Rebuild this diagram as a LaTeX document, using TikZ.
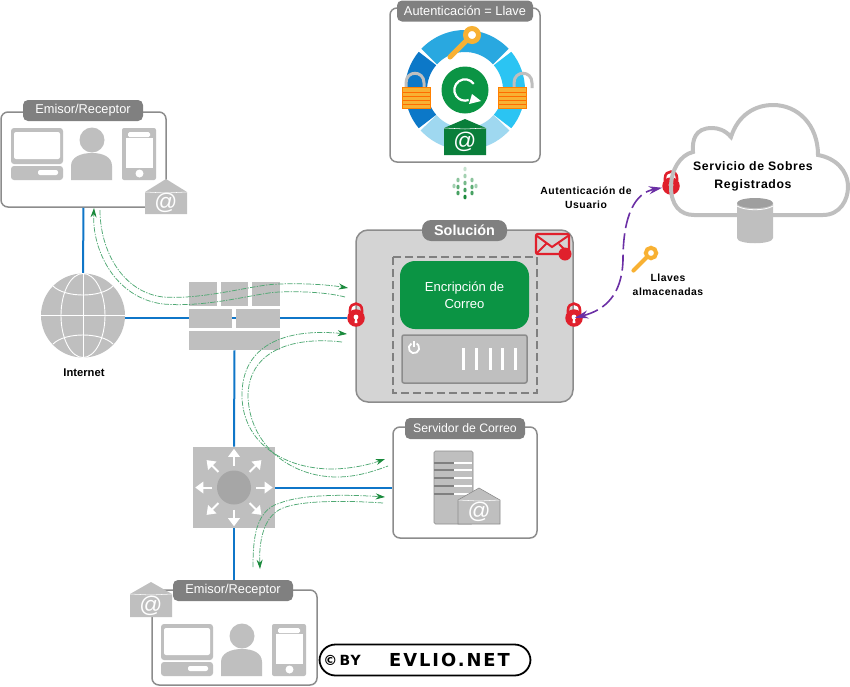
\documentclass[tikz,border=0pt]{standalone}
\usepackage{fontspec}
\setmainfont{Liberation Sans}
\newfontfamily\widefont[LetterSpace=5]{Liberation Sans}
\newfontfamily\markfont[LetterSpace=7]{DejaVu Sans}
\newfontfamily\namefont[LetterSpace=11]{DejaVu Sans}
\usepackage{tikz}
\usetikzlibrary{arrows,arrows.meta,calc,positioning}
\definecolor{boxline}{HTML}{8C8C8C}
\definecolor{titlegray}{HTML}{808080}
\definecolor{icongray}{HTML}{BFBFBF}
\definecolor{panelgray}{HTML}{D4D4D4}
\definecolor{netblue}{HTML}{0F76C8}
\definecolor{flowgreen}{HTML}{4FA873}
\definecolor{tipgreen}{HTML}{1A8A3C}
\definecolor{darkgreen}{HTML}{0B9444}
\definecolor{lockred}{HTML}{E0202C}
\definecolor{keyorange}{HTML}{F8B133}
\definecolor{flowpurple}{HTML}{6B2FA5}
\def\px{0.75pt}
\tikzset{%
groupbox/.style={draw=boxline,line width=1.5*\px,rounded corners=7*\px,fill=white,inner sep=0pt},
titlebar/.style={fill=titlegray,rounded corners=5*\px,text=white,inner sep=0pt,minimum height=21*\px,font=\fontsize{9.6}{11}\selectfont},
netlink/.style={draw=netblue,line width=2*\px},
flowplain/.style={draw=flowgreen,line width=0.75*\px,dash pattern=on 4pt off 1pt on 1pt off 1pt},
flowline/.style={flowplain,-{Stealth[length=7pt,width=4.5pt,color=tipgreen]}},
flowboth/.style={flowplain,{Stealth[length=7pt,width=4.5pt,color=tipgreen]}-{Stealth[length=7pt,width=4.5pt,color=tipgreen]}},
authlink/.style={draw=flowpurple,line width=1.6*\px,dash pattern=on 12pt off 4pt,{Stealth[length=10pt,width=6pt]}-{Stealth[length=10pt,width=6pt]}},
boldlabel/.style={font=\fontsize{7.8}{10.8}\selectfont\widefont\bfseries,align=center,inner sep=0pt},
atmark/.style={text=white,inner sep=0pt,font=\fontsize{17}{17}\selectfont},
lockbody/.style={circle,fill=lockred,minimum size=17.5*\px,inner sep=0pt},
brick/.style={fill=icongray}
}
% envelope: name, centre x, apex y, top of body, bottom, colour
\newcommand{\mailicon}[6]{%
  \fill[#6] (#2-21,#4) -- (#2,#3) -- (#2+21,#4) -- (#2+21,#5) -- (#2-21,#5) -- cycle;
  \draw[white,line width=0.4pt] (#2-21,#4) -- (#2,#4+1) -- (#2+21,#4);
  \node[atmark] (#1) at (#2,{(#4+#5)/2}) {@};
}
% red padlock: name, centre x, centre y
\newcommand{\redlock}[3]{%
  \draw[lockred,line width=2.6*\px] (#2-6,#3-5) -- (#2-6,#3-8) .. controls (#2-6,#3-16.5) and (#2+6,#3-16.5) .. (#2+6,#3-8) -- (#2+6,#3-5);
  \node[lockbody] (#1) at (#2,#3) {};
  \fill[white] (#2,#3-1) circle (2.4);
  \fill[white] (#2-1,#3) -- (#2+1,#3) -- (#2+1.4,#3+5) -- (#2-1.4,#3+5) -- cycle;
}
% orange padlock: body left x, shackle centre x
\newcommand{\keylock}[2]{%
  \draw[icongray,line width=3*\px] (#2-9,88) -- (#2-9,83) .. controls (#2-9,70) and (#2+9,70) .. (#2+9,83) -- (#2+9,88);
  \fill[keyorange] (#1,87) rectangle (#1+28,108);
  \foreach \ya in {92,96,100,104}{\draw[orange!85!red,line width=0.4pt] (#1,\ya) -- (#1+28,\ya);}
  \draw[orange,line width=0.7pt] (#1,87) rectangle (#1+28,108);
}
% key: bow x, bow y, scale
\newcommand{\goldkey}[3]{%
  \draw[keyorange,line width=5*#3*\px,line cap=round] (#1,#2) -- (#1-22*#3,#2+22*#3);
  \draw[keyorange,line width=5*#3*\px,fill=white] (#1,#2) circle ({6.5*#3});
}
% computer, person, phone
\newcommand{\deviceset}[2]{%
  \begin{scope}[shift={(#1,#2)}]
    \fill[icongray,rounded corners=3*\px] (0,0) rectangle (52,36);
    \fill[white,rounded corners=2*\px] (3,4) rectangle (49,31);
    \fill[icongray,rounded corners=3*\px] (0,38) rectangle (52,52);
    \fill[white,rounded corners=2*\px] (27,42) rectangle (47,47);
    \fill[icongray] (81,12) circle (12.5);
    \fill[icongray] (60,52) -- (60,38) .. controls (60,29) and (70,25) .. (81,25) .. controls (92,25) and (101,29) .. (101,38) -- (101,52) -- cycle;
    \fill[icongray,rounded corners=2*\px] (111,0) rectangle (145,52);
    \fill[white,rounded corners=1.5*\px] (117,4) rectangle (139,9);
    \fill[white] (114.5,10) rectangle (142,40);
    \fill[white] (128.5,45.5) circle (4);
  \end{scope}
}

\begin{document}
\begin{tikzpicture}[x=0.75pt,y=-0.75pt]
\useasboundingbox (0,0) rectangle (850,686);

% places
\coordinate (arrowsender) at (94,208);
\coordinate (flowsender) at (100,210);
\coordinate (solupper) at (348,288);
\coordinate (solupperb) at (345,297);
\coordinate (sollower) at (347,334);
\coordinate (sollowerb) at (342,342);
\coordinate (srvtop) at (385,459);
\coordinate (srvtopb) at (388,466);
\coordinate (srvlow) at (385,497);
\coordinate (srvlowb) at (383,503);
\coordinate (userlow) at (260,569);
\coordinate (userlowb) at (253,567);
\coordinate (ring) at (465,90);

% group boxes
\node[groupbox,minimum width=165*\px,minimum height=95*\px] (senderbox) at (83.5,159.5) {};
\node[groupbox,minimum width=150*\px,minimum height=154*\px] (authbox) at (465,85) {};
\node[groupbox,minimum width=144*\px,minimum height=111*\px] (mailbox) at (465,482.5) {};
\node[groupbox,minimum width=165*\px,minimum height=95*\px] (userbox) at (234.5,637.5) {};
\node[groupbox,fill=panelgray,rounded corners=12*\px,minimum width=217*\px,minimum height=172*\px] (solution) at (464.5,316) {};

% network
\node[circle,fill=icongray,minimum size=84*\px,inner sep=0pt] (globe) at (83,315.5) {};
\node[minimum width=91*\px,minimum height=68*\px,inner sep=0pt] (firewall) at (234.5,316) {};
\node[fill=icongray,minimum width=82*\px,minimum height=81*\px,inner sep=0pt] (switch) at (234,487.5) {};
\node[titlebar,minimum width=120*\px] (usertitle) at (233,590.5) {Emisor/Receptor};
\redlock{lockleft}{356}{318}
\redlock{lockright}{574}{318}
\redlock{lockcloud}{671}{186}

\draw[netlink] (senderbox.south) -- (globe.north);
\draw[netlink] (lockleft.west) -- (lockleft.west -| globe.east);
\draw[netlink] (firewall.south) -- (switch.north);
\draw[netlink] (switch.south) -- (usertitle.north -| switch.south);
\draw[netlink] (switch.east) -- (switch.east -| mailbox.west);

% globe
\begin{scope}[white,line width=0.9*\px]
\draw (globe.center) ellipse (22 and 42);
\draw (globe.north) -- (globe.south);
\draw (globe.west) -- (globe.east);
\draw (53,286) .. controls (65,298) and (101,298) .. (113,286);
\draw (53,344) .. controls (65,332) and (101,332) .. (113,344);
\end{scope}
\node[font=\fontsize{8.4}{10}\selectfont\bfseries,inner sep=0pt] (internet) at (84,373) {Internet};

% firewall
\fill[brick] (189,282) rectangle (217,306);
\fill[brick] (221,282) rectangle (248,306);
\fill[brick] (252,282) rectangle (280,306);
\fill[brick] (189,309) rectangle (232,328);
\fill[brick] (236,309) rectangle (280,328);
\fill[brick] (189,331) rectangle (280,350);

% switch
\fill[gray!70] (switch.center) circle (17);
\foreach \a in {0,45,...,315}{
  \draw[white,line width=2*\px] ($(switch.center)+(\a:16.5pt)$) -- ($(switch.center)+(\a:24pt)$);
  \fill[white,rotate around={\a:(switch.center)}] ($(switch.center)+(23pt,-4.5pt)$) -- ($(switch.center)+(29pt,0pt)$) -- ($(switch.center)+(23pt,4.5pt)$) -- cycle;
}

% senders
\node[titlebar,minimum width=120*\px] (sendertitle) at (83,110.5) {Emisor/Receptor};
\deviceset{11}{128}
\mailicon{sendermail}{166}{179}{192}{214}{icongray}
\deviceset{161}{624}
\mailicon{usermail}{151}{582}{594}{617}{icongray}

% authentication ring
\node[titlebar,minimum width=136*\px] (authtitle) at (465,11) {Autenticación = Llave};
\definecolor{ringa}{HTML}{29A8E0}
\definecolor{ringb}{HTML}{2BC4F3}
\definecolor{ringc}{HTML}{9FD8F0}
\definecolor{ringd}{HTML}{0C78C8}
\foreach \a/\b/\c in {43/137/ringa,-40/40/ringb,222/318/ringc,140/220/ringd}{
  \draw[\c,line width=16.5pt] (ring) ++(\a:36.75pt) arc (\a:\b:36.75pt);
}
\node[circle,fill=darkgreen,minimum size=47*\px,inner sep=0pt] (sync) at (ring) {};
\draw[white,line width=2.2*\px] (sync) ++(35:8pt) arc (35:290:8pt);
\fill[white] (472,94) -- (481,101) -- (469,104) -- cycle;
\goldkey{472}{35}{1}
\keylock{402}{415}
\keylock{498}{523}
\mailicon{ringmail}{465}{119}{128}{155}{darkgreen!85!black}

% up arrow of dots
\foreach \xa/\ya/\op in {465/169/0.25,465/176/0.4,465/183/0.6,465/190/0.8,465/197/1,458/180/0.5,472/180/0.5,458/187/0.7,472/187/0.7,458/193/0.8,472/193/0.8,454/186/0.4,476/186/0.4}{
  \fill[tipgreen,opacity=\op] (\xa,\ya) ellipse (1.6 and 2.4);
}

% solution
\node[titlebar,rounded corners=9*\px,minimum width=85*\px,font=\fontsize{10.8}{13}\selectfont\bfseries] (solutiontitle) at (464.5,230.5) {Solución};
\draw[gray,line width=1.1*\px,dash pattern=on 6pt off 3pt] (393,257) rectangle (537,393);
\node[fill=darkgreen,rounded corners=15*\px,minimum width=129*\px,minimum height=68*\px,align=center,text=white,inner sep=0pt,font=\fontsize{9.8}{12.5}\selectfont] (encrypt) at (464.5,295) {Encripción de\\Correo};
\node[fill=icongray,draw=boxline,line width=1.5*\px,rounded corners=2*\px,minimum width=125*\px,minimum height=48*\px,inner sep=0pt] (appliance) at (464.5,359) {};
\draw[white,line width=1.8*\px] (414,348) ++(120:3.9pt) arc (120:420:3.9pt);
\draw[white,line width=1.8*\px] (414,341) -- (414,347);
\foreach \xa in {463,476,490,502,515}{\draw[white,line width=3*\px] (\xa,348) -- (\xa,370);}

% sealed mail
\draw[lockred,line width=2.4*\px,rounded corners=2*\px] (536,234) rectangle (569,254);
\draw[lockred,line width=2*\px] (537,236) -- (552,247) -- (568,236) (537,253) -- (546,244) (568,253) -- (559,244);
\node[circle,fill=lockred,minimum size=13*\px,inner sep=0pt] (maildot) at (565,254) {};

% mail server
\node[titlebar,minimum width=120*\px,font=\fontsize{9.2}{11}\selectfont] (mailtitle) at (465,428.5) {Servidor de Correo};
\fill[icongray,draw=boxline,line width=0.6*\px,rounded corners=1.5*\px] (434,451) rectangle (473,524);
\foreach \ya in {463,470,478,486,494}{
  \draw[gray,line width=1.2*\px] (434,\ya) -- (454,\ya);
  \draw[white,line width=1.2*\px] (454,\ya) -- (472,\ya);
}
\mailicon{servermail}{479}{488}{500}{524}{icongray}
\draw[boxline,line width=0.6*\px] (458,500) -- (479,488) -- (500,500) -- (500,524) -- (458,524) -- cycle;

% cloud
\draw[icongray,line width=4*\px] (694,215) -- (823,215) .. controls (840,215) and (848,200) .. (848,187) .. controls (848,170) and (835,158) .. (818,155) .. controls (818,125) and (798,105) .. (773,105) .. controls (755,105) and (738,115) .. (731,137) .. controls (725,130) and (718,128) .. (712,128) .. controls (695,128) and (692,140) .. (693,152) .. controls (680,155) and (671,170) .. (671,187) .. controls (671,205) and (680,215) .. (694,215) -- cycle;
\fill[white] (739,210) rectangle (771,220);
\node[boldlabel,font=\fontsize{9.2}{13}\selectfont\widefont\bfseries] (envelopeservice) at (753,176.5) {Servicio de Sobres\\Registrados};
\fill[icongray] (737,203) -- (737,238) .. controls (737,245) and (773,245) .. (773,238) -- (773,203) -- cycle;
\fill[gray!75] (755,203) ellipse (18 and 5);
\draw[white,line width=0.8*\px] (737,206) .. controls (745,211) and (765,211) .. (773,206);

% user authentication
\draw[authlink,shorten <=-6pt] (lockright) .. controls (605,310) and (622,295) .. (623,260) .. controls (623,215) and (635,193) .. (lockcloud);
\node[boldlabel] (authuser) at (586,197.5) {Autenticación de\\Usuario};
\goldkey{651}{253}{0.8}
\node[boldlabel] (storedkeys) at (668,285) {Llaves\\almacenadas};

% data flows
\draw[flowline] (solupperb) .. controls (330,293) and (305,291) .. (280,292) .. controls (260,292) and (210,308) .. (163,304) .. controls (115,298) and (92,250) .. (arrowsender);
\draw[flowline] (flowsender) .. controls (100,250) and (122,292) .. (163,297) .. controls (205,300) and (255,284) .. (280,284) .. controls (305,283) and (330,285) .. (solupper);
\draw[flowboth] (sollower) .. controls (285,328) and (242,345) .. (242,395) .. controls (242,440) and (280,468) .. (330,469) .. controls (350,469) and (368,465) .. (srvtop);
\draw[flowplain] (sollowerb) .. controls (290,336) and (248,352) .. (248,397) .. controls (250,445) and (290,477) .. (337,477) .. controls (355,477) and (372,472) .. (srvtopb);
\draw[flowline] (userlowb) .. controls (253,540) and (255,510) .. (280,503) .. controls (300,495) and (340,494) .. (srvlow);
\draw[flowline] (srvlowb) .. controls (340,500) and (300,501) .. (283,508) .. controls (262,516) and (259,545) .. (userlow);

% watermark
\node[draw=black,line width=1.8*\px,fill=white,rounded corners=16*\px,minimum width=211*\px,minimum height=31*\px,inner sep=0pt] (stamp) at (425,660) {};
\node[inner sep=0pt,font=\fontsize{10.5}{12}\selectfont\markfont\bfseries] (stampby) at (342,660) {©\,BY};
\node[inner sep=0pt,font=\fontsize{13.4}{15}\selectfont\namefont\bfseries] (stampname) at (449.5,660) {EVLIO.NET};

\end{tikzpicture}
\end{document}
